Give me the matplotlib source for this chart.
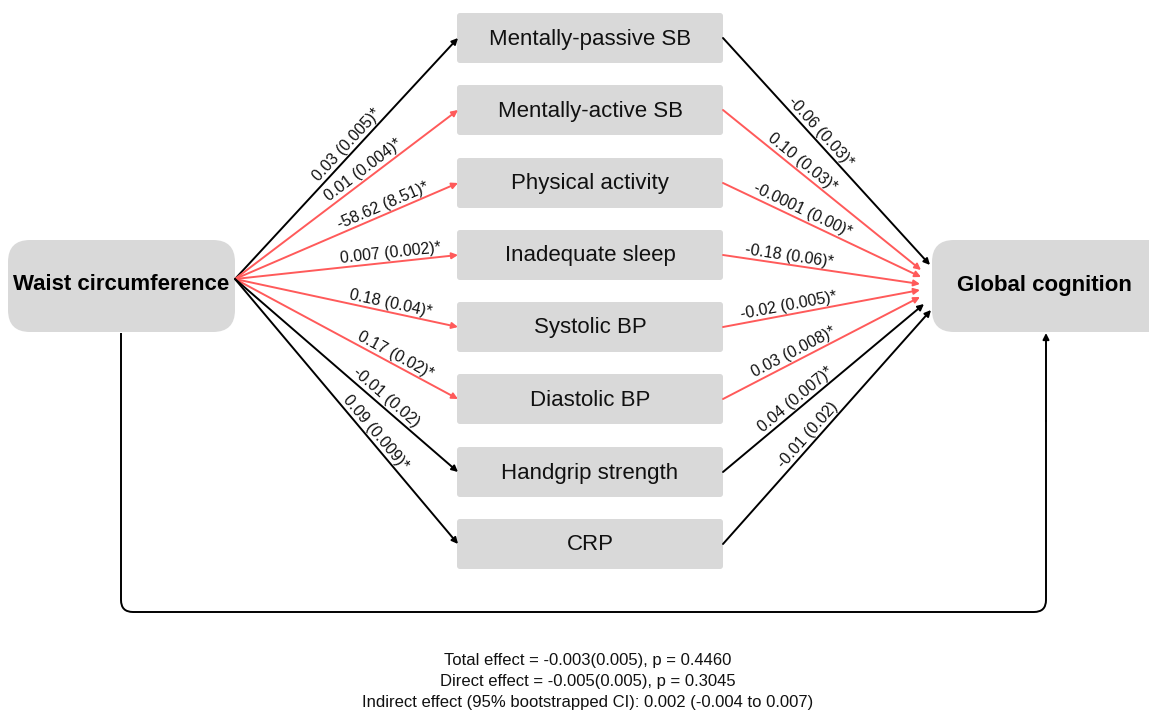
import numpy as np
import matplotlib.pyplot as plt
from matplotlib.patches import FancyBboxPatch, FancyArrowPatch, PathPatch
from matplotlib.path import Path

plt.rcParams['font.family'] = ['Liberation Sans', 'DejaVu Sans']

# data
exposure = "Waist circumference"
outcome = "Global cognition"
mediators = ["Mentally-passive SB", "Mentally-active SB", "Physical activity",
             "Inadequate sleep", "Systolic BP", "Diastolic BP",
             "Handgrip strength", "CRP"]
a_paths = ["0.03 (0.005)*", "0.01 (0.004)*", "-58.62 (8.51)*", "0.007 (0.002)*",
           "0.18 (0.04)*", "0.17 (0.02)*", "-0.01 (0.02)", "0.09 (0.009)*"]
b_paths = ["-0.06 (0.03)*", "0.10 (0.03)*", "-0.0001 (0.00)*", "-0.18 (0.06)*",
           "-0.02 (0.005)*", "0.03 (0.008)*", "0.04 (0.007)*", "-0.01 (0.02)"]
a_sig = [False, True, True, True, True, True, False, False]
b_sig = [False, True, True, True, True, True, False, False]
effects = ["Total effect = -0.003(0.005), p = 0.4460",
           "Direct effect = -0.005(0.005), p = 0.3045",
           "Indirect effect (95% bootstrapped CI): 0.002 (-0.004 to 0.007)"]

# layout (pixels)
W, H = 1149, 713
box_grey = '#d9d9d9'
red = '#ff5a5a'
mid_x0, mid_x1 = 457, 723
mid_h = 50
mid_y = [38, 110, 183, 255, 327, 399, 472, 544]
src = (235, 279)
end_x = [930, 921, 921, 920, 920, 920, 924, 931]
end_y = [265, 270, 277, 284, 290, 297, 304, 310]
a_t = [0.53, 0.60, 0.68, 0.70, 0.69, 0.70, 0.65, 0.60]
b_t = [0.44, 0.37, 0.38, 0.33, 0.34, 0.38, 0.39, 0.44]

fig = plt.figure(figsize=(W / 100, H / 100), dpi=100)
ax = fig.add_axes([0, 0, 1, 1])
ax.set_xlim(0, W)
ax.set_ylim(H, 0)
ax.axis('off')


def arrow(p0, p1, color):
    ax.add_patch(FancyArrowPatch(p0, p1, arrowstyle='-|>', mutation_scale=9,
                                 color=color, lw=1.4, shrinkA=0, shrinkB=0,
                                 zorder=3))


def label(p0, p1, t, text, off=9):
    dx, dy = p1[0] - p0[0], p1[1] - p0[1]
    L = np.hypot(dx, dy)
    nx, ny = dy / L, -dx / L
    x = p0[0] + t * dx + off * nx
    y = p0[1] + t * dy + off * ny
    ang = -np.degrees(np.arctan2(dy, dx))
    ax.text(x, y, text, fontsize=11.5, rotation=ang, rotation_mode='anchor',
            ha='center', va='center', color='#111111', zorder=4)


# exposure / outcome boxes
ax.add_patch(FancyBboxPatch((8, 240), 227, 92,
                            boxstyle='round,pad=0,rounding_size=22',
                            fc=box_grey, ec='none', zorder=1))
ax.text(121, 285, exposure, fontsize=16, fontweight='bold',
        ha='center', va='center', zorder=2)
ax.add_patch(FancyBboxPatch((932, 240), 240, 92,
                            boxstyle='round,pad=0,rounding_size=22',
                            fc=box_grey, ec='none', zorder=1))
ax.text(1044, 286, outcome, fontsize=16, fontweight='bold',
        ha='center', va='center', zorder=2)

# mediators and paths
for i, name in enumerate(mediators):
    yc = mid_y[i]
    ax.add_patch(FancyBboxPatch((mid_x0, yc - mid_h / 2), mid_x1 - mid_x0, mid_h,
                                boxstyle='round,pad=0,rounding_size=3',
                                fc=box_grey, ec='none', zorder=1))
    ax.text((mid_x0 + mid_x1) / 2, yc + 1, name, fontsize=16,
            ha='center', va='center', color='#111111', zorder=2)

    p0, p1 = src, (mid_x0 + 1, yc)
    arrow(p0, p1, red if a_sig[i] else 'black')
    label(p0, p1, a_t[i], a_paths[i])

    q0, q1 = (mid_x1, yc), (end_x[i], end_y[i])
    arrow(q0, q1, red if b_sig[i] else 'black')
    label(q0, q1, b_t[i], b_paths[i])

# direct path (rounded loop underneath)
r = 12
verts = [(121, 333), (121, 612 - r), (121, 612), (121 + r, 612),
         (1046 - r, 612), (1046, 612), (1046, 612 - r), (1046, 420)]
codes = [Path.MOVETO, Path.LINETO, Path.CURVE3, Path.CURVE3,
         Path.LINETO, Path.CURVE3, Path.CURVE3, Path.LINETO]
ax.add_patch(PathPatch(Path(verts, codes), fill=False, ec='black', lw=1.4,
                       zorder=3))
arrow((1046, 421), (1046, 333), 'black')

# effects text
for k, line in enumerate(effects):
    ax.text(588, 660 + k * 21.5, line, fontsize=12, ha='center', va='center',
            color='#111111')

fig.savefig('out.png', dpi=100)
